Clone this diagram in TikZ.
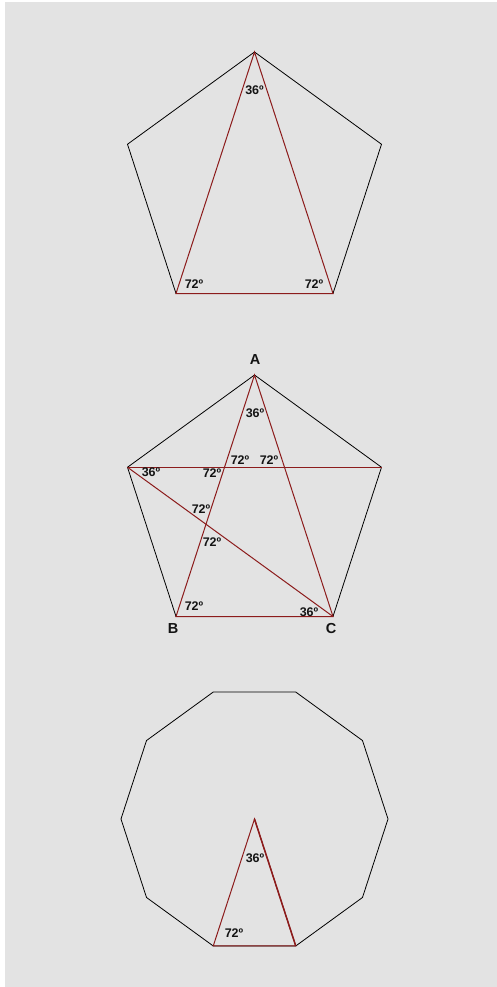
\documentclass[tikz,border=0pt]{standalone}
\usepackage{fontspec}
\setmainfont{Liberation Sans}
\definecolor{bg}{HTML}{E3E3E3}
\definecolor{redline}{RGB}{140,28,28}
\definecolor{txt}{HTML}{141414}
\begin{document}
\begin{tikzpicture}[x=1pt,y=-1pt,
  blackline/.style={draw=black,line width=0.8pt,line join=miter},
  redseg/.style={draw=redline,line width=1pt},
  anglab/.style={font=\fontsize{12.5}{13}\selectfont\bfseries,text=txt,inner sep=0pt},
  vlab/.style={font=\fontsize{14.5}{15}\selectfont\bfseries,text=txt,inner sep=0pt}]
\useasboundingbox (0,0) rectangle (497,987);
\fill[white] (0,0) rectangle (497,987);
\fill[bg] (5,2) rectangle (497,987);

% ---- pentagon 1
\coordinate (t1) at (254.5,52);
\coordinate (l1) at (127.5,144.25);
\coordinate (r1) at (381.5,144.25);
\coordinate (bl1) at (176,293.5);
\coordinate (br1) at (333,293.5);
\draw[blackline] (t1) -- (r1) -- (br1) -- (bl1) -- (l1) -- cycle;
\draw[redseg] (t1) -- (bl1) -- (br1) -- cycle;
\node[anglab] (p1a) at (254.5,90) {36º};
\node[anglab] (p1b) at (194,284) {72º};
\node[anglab] (p1c) at (314,284) {72º};

% ---- pentagon 2
\coordinate (A) at (254.5,375);
\coordinate (l2) at (127.5,467.25);
\coordinate (r2) at (381.5,467.25);
\coordinate (B) at (176,616.5);
\coordinate (C) at (333,616.5);
\draw[blackline] (A) -- (r2) -- (C) -- (B) -- (l2) -- cycle;
\draw[redseg] (A) -- (B) -- (C) -- cycle;
\draw[redseg] (l2) -- (r2);
\draw[redseg] (l2) -- (C);
\node[vlab] (labA) at (255,360) {A};
\node[vlab] (labB) at (173,629) {B};
\node[vlab] (labC) at (331,629) {C};
\node[anglab] (q1) at (255,413) {36º};
\node[anglab] (q2) at (240,460) {72º};
\node[anglab] (q3) at (269,460) {72º};
\node[anglab] (q4) at (212,473) {72º};
\node[anglab] (q5) at (151,472) {36º};
\node[anglab] (q6) at (201,509) {72º};
\node[anglab] (q7) at (212,542) {72º};
\node[anglab] (q8) at (194,606) {72º};
\node[anglab] (q9) at (309,612) {36º};

% ---- decagon
\coordinate (d0) at (388,819);
\coordinate (d1) at (362.5,740.53);
\coordinate (d2) at (295.75,692.03);
\coordinate (d3) at (213.25,692.03);
\coordinate (d4) at (146.5,740.53);
\coordinate (d5) at (121,819);
\coordinate (d6) at (146.5,897.47);
\coordinate (d7) at (213.25,945.97);
\coordinate (d8) at (295.75,945.97);
\coordinate (d9) at (362.5,897.47);
\coordinate (dc) at (254.5,819);
\draw[blackline] (d0) -- (d1) -- (d2) -- (d3) -- (d4) -- (d5) -- (d6) -- (d7) -- (d8) -- (d9) -- cycle;
\draw[redseg] (dc) -- (d7) -- (d8) -- cycle;
\draw[draw=redline,line width=1.5pt] (dc) -- (d8);
\node[anglab] (e1) at (255,858) {36º};
\node[anglab] (e2) at (234,933) {72º};
\end{tikzpicture}
\end{document}
